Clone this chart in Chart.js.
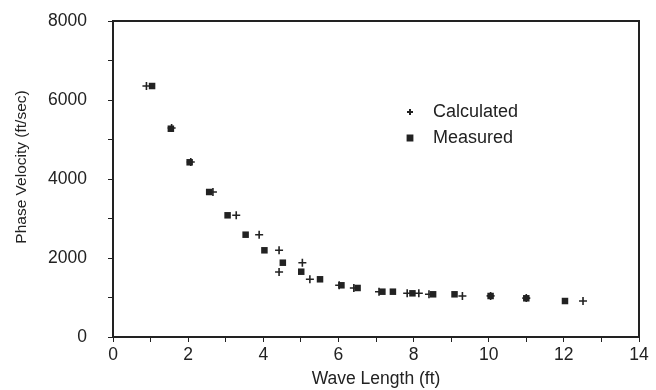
<!DOCTYPE html>
<html>
<head>
<meta charset="utf-8">
<script src="https://cdn.jsdelivr.net/npm/chart.js@4/dist/chart.umd.min.js"></script>
<style>
  html, body { margin: 0; padding: 0; background: #ffffff; }
  #wrap { width: 656px; height: 390px; position: relative; }
</style>
</head>
<body>
<div id="wrap"><canvas id="chart"></canvas></div>
<script>
const calculatedX = [0.89, 1.56, 2.07, 2.66, 3.28, 3.89, 4.42, 5.04, 4.42, 5.24, 6.02, 6.41, 7.08, 7.83, 8.14, 8.41, 9.3, 10.05, 11.0, 12.51];
const calculatedY = [6354, 5290, 4430, 3671, 3081, 2590, 2195, 1881, 1646, 1461, 1309, 1241, 1147, 1106, 1106, 1081, 1038, 1040, 985, 911];

const measuredX = [1.04, 1.54, 2.04, 2.56, 3.05, 3.53, 4.03, 4.52, 5.01, 5.51, 6.08, 6.51, 7.17, 7.45, 7.97, 8.52, 9.09, 10.05, 11.0, 12.03];
const measuredY = [6354, 5273, 4423, 3671, 3081, 2590, 2195, 1881, 1653, 1461, 1309, 1241, 1147, 1147, 1106, 1081, 1081, 1038, 980, 911];

const xTickLabels = ["0", "2", "4", "6", "8", "10", "12", "14"];
const yTickLabels = ["0", "2000", "4000", "6000", "8000"];
const yTitle = "Phase Velocity (ft/sec)";

const ink = "#222222";
const fontFamily = "'Liberation Sans', Arial, Helvetica, sans-serif";

const toPoints = (xs, ys) => xs.map((x, i) => ({ x, y: ys[i] }));

// frame round the plot area, the y title and the in-plot legend
const framePlugin = {
  id: "frame",
  afterDraw(chart) {
    const { ctx, chartArea: a } = chart;
    ctx.save();
    ctx.strokeStyle = ink;
    ctx.lineWidth = 2;
    ctx.strokeRect(a.left, a.top, a.right - a.left, a.bottom - a.top);

    ctx.fillStyle = ink;
    ctx.textBaseline = "middle";
    ctx.textAlign = "center";
    ctx.font = `15.5px ${fontFamily}`;
    ctx.save();
    ctx.translate(22, 167);
    ctx.rotate(-Math.PI / 2);
    ctx.fillText(yTitle, 0, 0);
    ctx.restore();

    ctx.textAlign = "left";
    ctx.font = `18px ${fontFamily}`;
    chart.data.datasets.forEach((ds, i) => {
      const y = 112 + i * 26;
      Chart.helpers.drawPoint(ctx, {
        pointStyle: ds.pointStyle,
        radius: ds.pointStyle === "cross" ? 3 : 3.4,
        borderWidth: 1.2,
      }, 410, y);
      ctx.fillStyle = ink;
      ctx.fillText(ds.label, 433, y);
    });
    ctx.restore();
  },
};

new Chart(document.getElementById("chart"), {
  type: "scatter",
  data: {
    datasets: [
      {
        label: "Calculated",
        data: toPoints(calculatedX, calculatedY),
        pointStyle: "cross",
        pointRadius: 4,
        borderColor: ink,
        backgroundColor: ink,
        borderWidth: 1.6,
      },
      {
        label: "Measured",
        data: toPoints(measuredX, measuredY),
        pointStyle: "rect",
        pointRadius: 4.6,
        borderColor: ink,
        backgroundColor: ink,
        borderWidth: 0,
      },
    ],
  },
  options: {
    responsive: true,
    maintainAspectRatio: false,
    animation: false,
    layout: { padding: { top: 21, right: 17, left: 0, bottom: 0 } },
    plugins: {
      legend: { display: false },
      tooltip: { enabled: false },
    },
    scales: {
      x: {
        type: "linear",
        min: 0,
        max: 14,
        afterFit: (scale) => {
          scale.height = 53;
          scale.paddingLeft = 0;
          scale.paddingRight = 0;
        },
        afterBuildTicks: (scale) => {
          scale.ticks = Array.from({ length: 15 }, (_, i) => ({ value: i }));
        },
        ticks: {
          color: ink,
          font: { family: fontFamily, size: 17.5 },
          padding: 3,
          maxRotation: 0,
          autoSkip: false,
          callback: (v) => (v % 2 === 0 ? xTickLabels[v / 2] : ""),
        },
        grid: { drawOnChartArea: false, tickLength: 5, color: ink },
        border: { color: ink, width: 2 },
        title: {
          display: true,
          text: "Wave Length (ft)",
          color: ink,
          font: { family: fontFamily, size: 17.5 },
          padding: { top: 0, bottom: 0 },
        },
      },
      y: {
        type: "linear",
        min: 0,
        max: 8000,
        afterFit: (scale) => {
          scale.width = 113;
          scale.paddingTop = 0;
          scale.paddingBottom = 0;
        },
        afterBuildTicks: (scale) => {
          scale.ticks = Array.from({ length: 9 }, (_, i) => ({ value: i * 1000 }));
        },
        ticks: {
          color: ink,
          font: { family: fontFamily, size: 17.5 },
          padding: 21,
          autoSkip: false,
          callback: (v) => (v % 2000 === 0 ? yTickLabels[v / 2000] : ""),
        },
        grid: { drawOnChartArea: false, tickLength: 5, color: ink },
        border: { color: ink, width: 2 },
      },
    },
  },
  plugins: [framePlugin],
});
</script>
</body>
</html>
